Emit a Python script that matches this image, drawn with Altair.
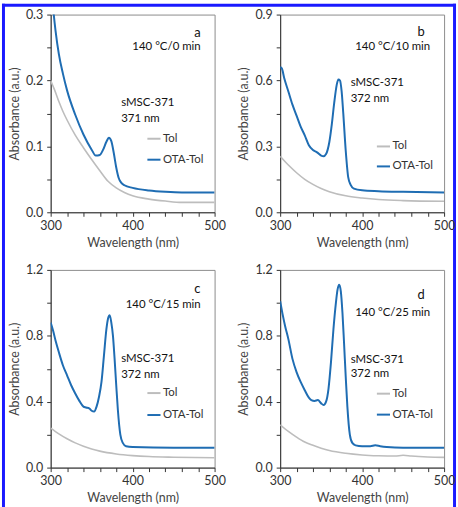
import altair as alt
import pandas as pd

# ---------------- data ----------------
# panel a : 140 °C / 0 min
a_tol_wl = [300, 305, 310, 315, 320, 330, 340, 350, 360, 370, 380, 390, 400, 420, 440, 460, 480, 500]
a_tol_ab = [0.200, 0.185, 0.168, 0.153, 0.140, 0.117, 0.098, 0.080, 0.063, 0.047, 0.037, 0.030, 0.025, 0.020, 0.017, 0.015, 0.015, 0.015]
a_ota_wl = [300, 303, 306, 310, 315, 320, 330, 340, 350, 355, 360, 364, 368, 371, 374, 377, 380, 383, 386, 390, 400, 420, 440, 460, 500]
a_ota_ab = [0.36, 0.31, 0.275, 0.24, 0.21, 0.185, 0.148, 0.118, 0.095, 0.086, 0.087, 0.095, 0.107, 0.113, 0.108, 0.090, 0.068, 0.052, 0.045, 0.041, 0.037, 0.033, 0.031, 0.030, 0.030]

# panel b : 140 °C / 10 min
b_tol_wl = [300, 310, 320, 330, 340, 350, 360, 380, 400, 420, 450, 500]
b_tol_ab = [0.255, 0.215, 0.180, 0.150, 0.127, 0.108, 0.094, 0.075, 0.065, 0.058, 0.053, 0.050]
b_ota_wl = [300, 302, 305, 310, 315, 320, 325, 330, 335, 340, 345, 350, 353, 356, 360, 363, 366, 369, 371, 373, 375, 377, 380, 383, 386, 390, 400, 420, 450, 500]
b_ota_ab = [0.66, 0.655, 0.61, 0.55, 0.49, 0.44, 0.39, 0.35, 0.305, 0.283, 0.273, 0.258, 0.255, 0.265, 0.32, 0.40, 0.50, 0.58, 0.605, 0.60, 0.55, 0.45, 0.28, 0.16, 0.125, 0.108, 0.100, 0.096, 0.093, 0.090]

# panel c : 140 °C / 15 min
c_tol_wl = [300, 310, 320, 330, 340, 350, 360, 380, 400, 420, 450, 500]
c_tol_ab = [0.240, 0.205, 0.175, 0.150, 0.130, 0.113, 0.100, 0.083, 0.073, 0.067, 0.063, 0.060]
c_ota_wl = [300, 303, 306, 310, 315, 320, 325, 330, 335, 340, 343, 347, 350, 353, 356, 359, 362, 365, 368, 370, 372, 374, 376, 378, 380, 382, 385, 388, 392, 400, 450, 500]
c_ota_ab = [0.88, 0.83, 0.77, 0.70, 0.62, 0.56, 0.50, 0.45, 0.405, 0.37, 0.365, 0.36, 0.345, 0.34, 0.37, 0.43, 0.52, 0.68, 0.84, 0.905, 0.925, 0.88, 0.80, 0.66, 0.50, 0.35, 0.20, 0.15, 0.13, 0.125, 0.120, 0.120]

# panel d : 140 °C / 25 min
d_tol_wl = [300, 310, 320, 330, 340, 350, 360, 380, 400, 420, 440, 450, 460, 480, 500]
d_tol_ab = [0.260, 0.220, 0.185, 0.155, 0.135, 0.118, 0.104, 0.087, 0.077, 0.072, 0.070, 0.075, 0.070, 0.064, 0.062]
d_ota_wl = [300, 303, 306, 310, 315, 320, 325, 330, 335, 338, 342, 346, 350, 353, 356, 359, 362, 365, 368, 370, 372, 374, 376, 378, 380, 382, 385, 388, 392, 400, 410, 416, 422, 430, 450, 500]
d_ota_ab = [1.01, 0.93, 0.86, 0.78, 0.66, 0.58, 0.52, 0.47, 0.425, 0.41, 0.405, 0.41, 0.39, 0.38, 0.40, 0.48, 0.64, 0.84, 1.00, 1.08, 1.11, 1.07, 0.94, 0.75, 0.55, 0.37, 0.20, 0.15, 0.135, 0.130, 0.130, 0.135, 0.130, 0.125, 0.120, 0.120]

series_names = ["Tol", "OTA-Tol"]
letters = ["a", "b", "c", "d"]
conditions = ["140 °C/0 min", "140 °C/10 min", "140 °C/15 min", "140 °C/25 min"]
peak_labels = ["371 nm", "372 nm", "372 nm", "372 nm"]
y_max = [0.3, 0.9, 1.2, 1.2]
y_major = [0.1, 0.3, 0.4, 0.4]
y_minor = [0.05, 0.15, 0.2, 0.2]
x_ticks = [300, 320, 340, 360, 380, 400, 420, 440, 460, 480, 500]

# annotation layout (fraction from top of each panel / wavelength positions)
LAYOUT = {
    "a": dict(letter_x=479, letter_f=0.095, cond_f=0.166, s_f=0.447, nm_f=0.528, tol_f=0.628, ota_f=0.734),
    "b": dict(letter_x=472, letter_f=0.086, cond_f=0.162, s_f=0.348, nm_f=0.429, tol_f=0.667, ota_f=0.768),
    "c": dict(letter_x=479, letter_f=0.095, cond_f=0.176, s_f=0.452, nm_f=0.533, tol_f=0.623, ota_f=0.734),
    "d": dict(letter_x=472, letter_f=0.126, cond_f=0.220, s_f=0.455, nm_f=0.525, tol_f=0.626, ota_f=0.732),
}
COND_X = 483
S_X = 386
LEG_X0, LEG_X1, LEG_TX = 418, 434, 437

GRAY = "#bdbdbd"
BLUE = "#1f6db3"
FONT = "Lato"
TXT = "#333333"

W, H = 165, 199

DATA = {
    "a": (a_tol_wl, a_tol_ab, a_ota_wl, a_ota_ab),
    "b": (b_tol_wl, b_tol_ab, b_ota_wl, b_ota_ab),
    "c": (c_tol_wl, c_tol_ab, c_ota_wl, c_ota_ab),
    "d": (d_tol_wl, d_tol_ab, d_ota_wl, d_ota_ab),
}


def panel(i, with_border=False):
    key = letters[i]
    lay = LAYOUT[key]
    ymax, major, minor = y_max[i], y_major[i], y_minor[i]
    tw, ta, ow, oa = DATA[key]
    tol = pd.DataFrame({"wl": tw, "ab": ta})
    ota = pd.DataFrame({"wl": ow, "ab": oa})

    nticks = int(round(ymax / minor))
    yvals = [round(k * minor, 4) for k in range(nticks + 1)]

    xs = alt.Scale(domain=[300, 500], nice=False, zero=False)
    ys = alt.Scale(domain=[0, ymax], nice=False, zero=True)

    xaxis = alt.Axis(values=x_ticks,
                     labelExpr="abs(datum.value/100 - round(datum.value/100)) < 0.001 ? format(datum.value, 'd') : ''",
                     title="Wavelength (nm)", grid=False, tickSize=4, labelPadding=3,
                     titlePadding=5, labelFlush=False, labelOverlap=False, labelBound=False)
    yaxis = alt.Axis(values=yvals,
                     labelExpr=f"abs(datum.value/{major} - round(datum.value/{major})) < 0.001 ? format(datum.value, '.1f') : ''",
                     title="Absorbance (a.u.)", grid=False, tickSize=4, labelPadding=4,
                     titlePadding=4, labelOverlap=False)

    def X(f):
        return alt.X(f, scale=xs, axis=xaxis)

    def Y(f):
        return alt.Y(f, scale=ys, axis=yaxis)

    gray_line = alt.Chart(tol).mark_line(clip=True, interpolate="monotone", color=GRAY, strokeWidth=1.6).encode(
        x=X("wl:Q"), y=Y("ab:Q"))
    blue_line = alt.Chart(ota).mark_line(clip=True, interpolate="monotone", color=BLUE, strokeWidth=2).encode(
        x=X("wl:Q"), y=Y("ab:Q"))

    def fy(f):
        return ymax * (1 - f)

    letter_df = pd.DataFrame({"wl": [lay["letter_x"]], "ab": [fy(lay["letter_f"])], "t": [key]})
    cond_df = pd.DataFrame({"wl": [COND_X], "ab": [fy(lay["cond_f"])], "t": [conditions[i]]})
    s_df = pd.DataFrame({"wl": [S_X, S_X], "ab": [fy(lay["s_f"]), fy(lay["nm_f"])], "t": ["sMSC-371", peak_labels[i]]})
    leg_txt = pd.DataFrame({"wl": [LEG_TX, LEG_TX], "ab": [fy(lay["tol_f"]), fy(lay["ota_f"])], "t": series_names})
    leg_line = pd.DataFrame({"wl": [LEG_X0, LEG_X0], "wl2": [LEG_X1, LEG_X1],
                             "ab": [fy(lay["tol_f"]), fy(lay["ota_f"])], "s": series_names})

    letter = alt.Chart(letter_df).mark_text(font=FONT, fontSize=13, color="#111", align="center",
                                            baseline="middle").encode(x=X("wl:Q"), y=Y("ab:Q"), text="t:N")
    cond = alt.Chart(cond_df).mark_text(font=FONT, fontSize=11.5, color="#111", align="right",
                                        baseline="middle").encode(x=X("wl:Q"), y=Y("ab:Q"), text="t:N")
    stext = alt.Chart(s_df).mark_text(font=FONT, fontSize=11.5, color="#111", align="left",
                                      baseline="middle").encode(x=X("wl:Q"), y=Y("ab:Q"), text="t:N")
    ltext = alt.Chart(leg_txt).mark_text(font=FONT, fontSize=11.5, color=TXT, align="left",
                                         baseline="middle").encode(x=X("wl:Q"), y=Y("ab:Q"), text="t:N")
    lline = alt.Chart(leg_line).mark_rule(strokeWidth=2).encode(
        x=X("wl:Q"), x2="wl2:Q", y=Y("ab:Q"),
        color=alt.Color("s:N", scale=alt.Scale(domain=series_names, range=[GRAY, BLUE]), legend=None))

    layers = [gray_line, blue_line, lline, letter, cond, stext, ltext]
    if with_border:
        edge = dict(stroke="#1a1aff", strokeWidth=3, clip=False)
        one = alt.Data(values=[{}])
        left = alt.Chart(one).mark_rule(**edge).encode(
            x=alt.value(-47.5), y=alt.value(-11), y2=alt.value(496))
        top = alt.Chart(one).mark_rule(**edge).encode(
            x=alt.value(-49), x2=alt.value(408), y=alt.value(-9.5))
        right = alt.Chart(one).mark_rule(**edge).encode(
            x=alt.value(406.5), y=alt.value(-11), y2=alt.value(496))
        layers += [left, top, right]
    return alt.layer(*layers).properties(width=W, height=H)


chart = alt.concat(panel(0, True), panel(1), panel(2), panel(3), columns=2,
                   spacing={"row": 58, "column": 66}, bounds="flush").properties(
    padding=0, background="white"
).configure_view(stroke="#8c8c8c", strokeWidth=1).configure_axis(
    domainColor="#333", tickColor="#333", labelColor="#333", titleColor="#444",
    labelFont=FONT, titleFont=FONT, labelFontSize=12.5, titleFontSize=12.5, titleFontWeight="normal"
)

chart.save("out.html", embed_options={"renderer": "svg", "actions": False})
